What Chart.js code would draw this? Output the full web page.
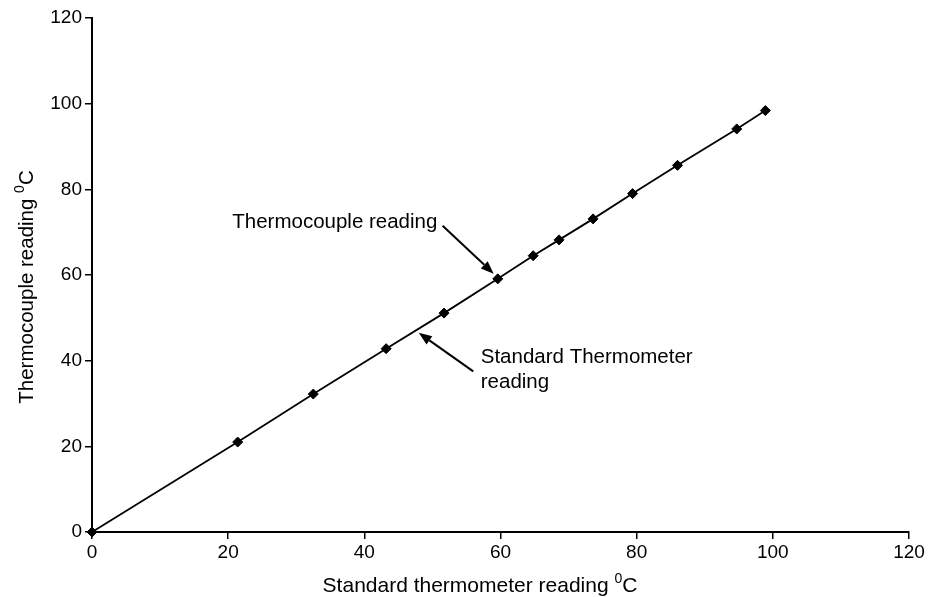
<!DOCTYPE html>
<html>
<head>
<meta charset="utf-8">
<script src="https://cdn.jsdelivr.net/npm/chart.js@4.4.1/dist/chart.umd.min.js"></script>
<style>
  html, body { margin: 0; padding: 0; background: #fff; }
  #wrap { width: 928px; height: 597px; }
</style>
</head>
<body>
<div id="wrap"><canvas id="calib"></canvas></div>
<script>
// standard thermometer vs thermocouple readings (deg C)
const standardReadings = [0, 21.4, 32.5, 43.2, 51.7, 59.6, 64.8, 68.6, 73.6, 79.4, 86.0, 94.7, 98.9];
const thermocoupleReadings = [0, 21.0, 32.2, 42.8, 51.1, 59.1, 64.5, 68.2, 73.1, 79.0, 85.6, 94.1, 98.4];
const axisTicks = [0, 20, 40, 60, 80, 100, 120];

const FONT = '"Liberation Sans", Arial, Helvetica, sans-serif';

const pairs = standardReadings.map((x, i) => ({ x: x, y: thermocoupleReadings[i] }));

// text with a raised "0" before the C, as in the axis titles
function drawDegreeText(ctx, base, x, y, size) {
  const small = Math.round(size * 0.66);
  ctx.font = size + 'px ' + FONT;
  const w1 = ctx.measureText(base).width;
  ctx.font = small + 'px ' + FONT;
  const w2 = ctx.measureText('0').width;
  ctx.font = size + 'px ' + FONT;
  const w3 = ctx.measureText('C').width;
  const start = x - (w1 + w2 + w3) / 2;
  ctx.textAlign = 'left';
  ctx.textBaseline = 'alphabetic';
  ctx.fillText(base, start, y);
  ctx.font = small + 'px ' + FONT;
  ctx.fillText('0', start + w1, y - size * 0.42);
  ctx.font = size + 'px ' + FONT;
  ctx.fillText('C', start + w1 + w2, y);
}

function arrow(ctx, x1, y1, x2, y2) {
  const ang = Math.atan2(y2 - y1, x2 - x1);
  const len = 13, half = 5;
  const bx = x2 - len * Math.cos(ang), by = y2 - len * Math.sin(ang);
  ctx.beginPath();
  ctx.moveTo(x1, y1);
  ctx.lineTo(bx, by);
  ctx.lineWidth = 2;
  ctx.stroke();
  ctx.beginPath();
  ctx.moveTo(x2, y2);
  ctx.lineTo(bx - half * Math.sin(ang), by + half * Math.cos(ang));
  ctx.lineTo(bx + half * Math.sin(ang), by - half * Math.cos(ang));
  ctx.closePath();
  ctx.fill();
}

const labelsPlugin = {
  id: 'labels',
  afterDraw(chart) {
    const ctx = chart.ctx;
    const xs = chart.scales.x, ys = chart.scales.y;
    const px = v => xs.getPixelForValue(v), py = v => ys.getPixelForValue(v);
    ctx.save();
    ctx.fillStyle = '#000';
    ctx.strokeStyle = '#000';

    // axis titles
    drawDegreeText(ctx, 'Standard thermometer reading ', 480, 592, 21);
    ctx.save();
    ctx.translate(33, 287);
    ctx.rotate(-Math.PI / 2);
    drawDegreeText(ctx, 'Thermocouple reading ', 0, 0, 20.5);
    ctx.restore();

    // callouts
    ctx.font = '20.5px ' + FONT;
    ctx.textAlign = 'left';
    ctx.textBaseline = 'alphabetic';
    ctx.fillText('Thermocouple reading', px(20.6), 228);
    arrow(ctx, px(51.5), py(71.5), px(59.0), py(60.3));

    ctx.fillText('Standard Thermometer', px(57.1), 363);
    ctx.fillText('reading', px(57.1), 388);
    arrow(ctx, px(56.0), py(37.5), px(48.0), py(46.5));
    ctx.restore();
  }
};

new Chart(document.getElementById('calib'), {
  type: 'scatter',
  data: {
    datasets: [
      {
        label: 'Standard Thermometer reading',
        data: pairs,
        showLine: true,
        borderColor: '#000',
        borderWidth: 1.8,
        pointRadius: 0,
        tension: 0
      },
      {
        label: 'Thermocouple reading',
        data: pairs,
        showLine: false,
        clip: false,
        pointStyle: 'rectRot',
        pointRadius: 5,
        backgroundColor: '#000',
        borderColor: '#000',
        borderWidth: 1
      }
    ]
  },
  options: {
    responsive: true,
    maintainAspectRatio: false,
    animation: false,
    layout: { padding: { top: 18, right: 19, left: 0, bottom: 0 } },
    plugins: {
      legend: { display: false },
      tooltip: { enabled: false }
    },
    scales: {
      x: {
        type: 'linear',
        min: 0,
        max: 120,
        afterBuildTicks: s => { s.ticks = axisTicks.map(v => ({ value: v })); },
        afterFit: s => { s.height = 65; },
        border: { display: true, color: '#000', width: 2 },
        grid: { drawOnChartArea: false, drawTicks: true, tickLength: 7, color: '#000', lineWidth: 1.5 },
        ticks: { color: '#000', padding: 2, font: { family: FONT, size: 19 } }
      },
      y: {
        type: 'linear',
        min: 0,
        max: 120,
        afterBuildTicks: s => { s.ticks = axisTicks.map(v => ({ value: v })); },
        afterFit: s => { s.width = 92; },
        border: { display: true, color: '#000', width: 2 },
        grid: { drawOnChartArea: false, drawTicks: true, tickLength: 7, color: '#000', lineWidth: 1.5 },
        ticks: { color: '#000', padding: 3, font: { family: FONT, size: 19 } }
      }
    }
  },
  plugins: [labelsPlugin]
});
</script>
</body>
</html>
